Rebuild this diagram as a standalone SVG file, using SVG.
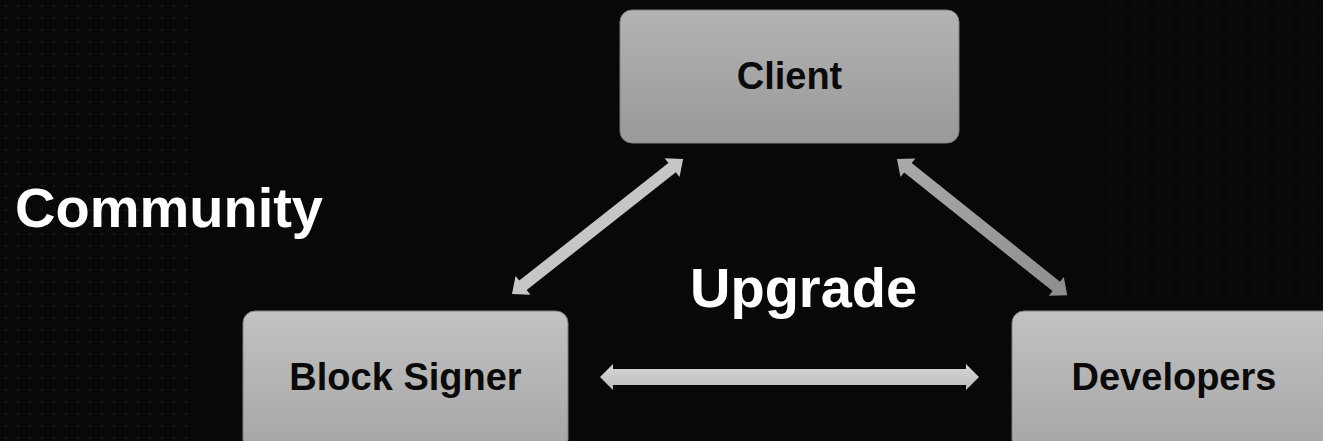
<svg xmlns="http://www.w3.org/2000/svg" width="1323" height="441" viewBox="0 0 1323 441">
  <defs>
    <linearGradient id="boxTop" x1="0" y1="0" x2="0" y2="1">
      <stop offset="0" stop-color="#b3b3b3"/>
      <stop offset="1" stop-color="#999999"/>
    </linearGradient>
    <linearGradient id="boxBottom" x1="0" y1="0" x2="0" y2="1">
      <stop offset="0" stop-color="#c2c2c2"/>
      <stop offset="1" stop-color="#a6a6a6"/>
    </linearGradient>
    <linearGradient id="arrowLight" x1="0" y1="0" x2="0" y2="1">
      <stop offset="0" stop-color="#d6d6d6"/>
      <stop offset="1" stop-color="#bcbcbc"/>
    </linearGradient>
    <linearGradient id="arrowDark" x1="0" y1="0" x2="1" y2="0">
      <stop offset="0" stop-color="#a9a9a9"/>
      <stop offset="1" stop-color="#8e8e8e"/>
    </linearGradient>
    <pattern id="dots" width="12" height="12" patternUnits="userSpaceOnUse">
      <circle cx="6" cy="6" r="1.2" fill="#2a2a2a"/>
    </pattern>
    <style>
      .box { stroke: #808080; stroke-width: 1; }
      .lbl { font-family: "Liberation Sans", Arial, sans-serif; font-weight: bold; font-size: 38px; fill: #0a0a0a; text-anchor: middle; }
      .big { font-family: "Liberation Sans", Arial, sans-serif; font-weight: bold; font-size: 56px; fill: #ffffff; }
    </style>
  </defs>

  <rect x="0" y="0" width="1323" height="441" fill="#080808"/>
  <rect x="0" y="0" width="190" height="441" fill="url(#dots)" opacity="0.5"/>
  <rect x="1100" y="0" width="223" height="300" fill="url(#dots)" opacity="0.3"/>

  <g id="connectors">
    <polygon id="arrow-signer-developers" fill="url(#arrowLight)" transform="translate(600,377)"
      points="0,0 13,-13 13,-8 366,-8 366,-13 379,0 366,13 366,8 13,8 13,13"/>
    <polygon id="arrow-signer-client" fill="#c6c6c6" transform="translate(512,294) rotate(-38.29)"
      points="0,0 14,-12 14,-6 204,-6 204,-12 218,0 204,12 204,6 14,6 14,12"/>
    <polygon id="arrow-client-developers" fill="url(#arrowDark)" transform="translate(897,159) rotate(38.66)"
      points="0,0 14,-12 14,-6 204,-6 204,-12 218,0 204,12 204,6 14,6 14,12"/>
  </g>

  <g id="node-client">
    <rect class="box" x="620" y="10" width="339" height="133" rx="12" fill="url(#boxTop)"/>
    <text class="lbl" x="789.5" y="89">Client</text>
  </g>

  <g id="node-block-signer">
    <rect class="box" x="243" y="311" width="325" height="140" rx="12" fill="url(#boxBottom)"/>
    <text class="lbl" x="405.5" y="390">Block Signer</text>
  </g>

  <g id="node-developers">
    <rect class="box" x="1012" y="311" width="325" height="140" rx="12" fill="url(#boxBottom)"/>
    <text class="lbl" x="1174" y="390">Developers</text>
  </g>

  <g id="label-community">
    <text class="big" x="15" y="227">Community</text>
  </g>

  <g id="label-upgrade">
    <text class="big" x="690" y="307">Upgrade</text>
  </g>
</svg>
